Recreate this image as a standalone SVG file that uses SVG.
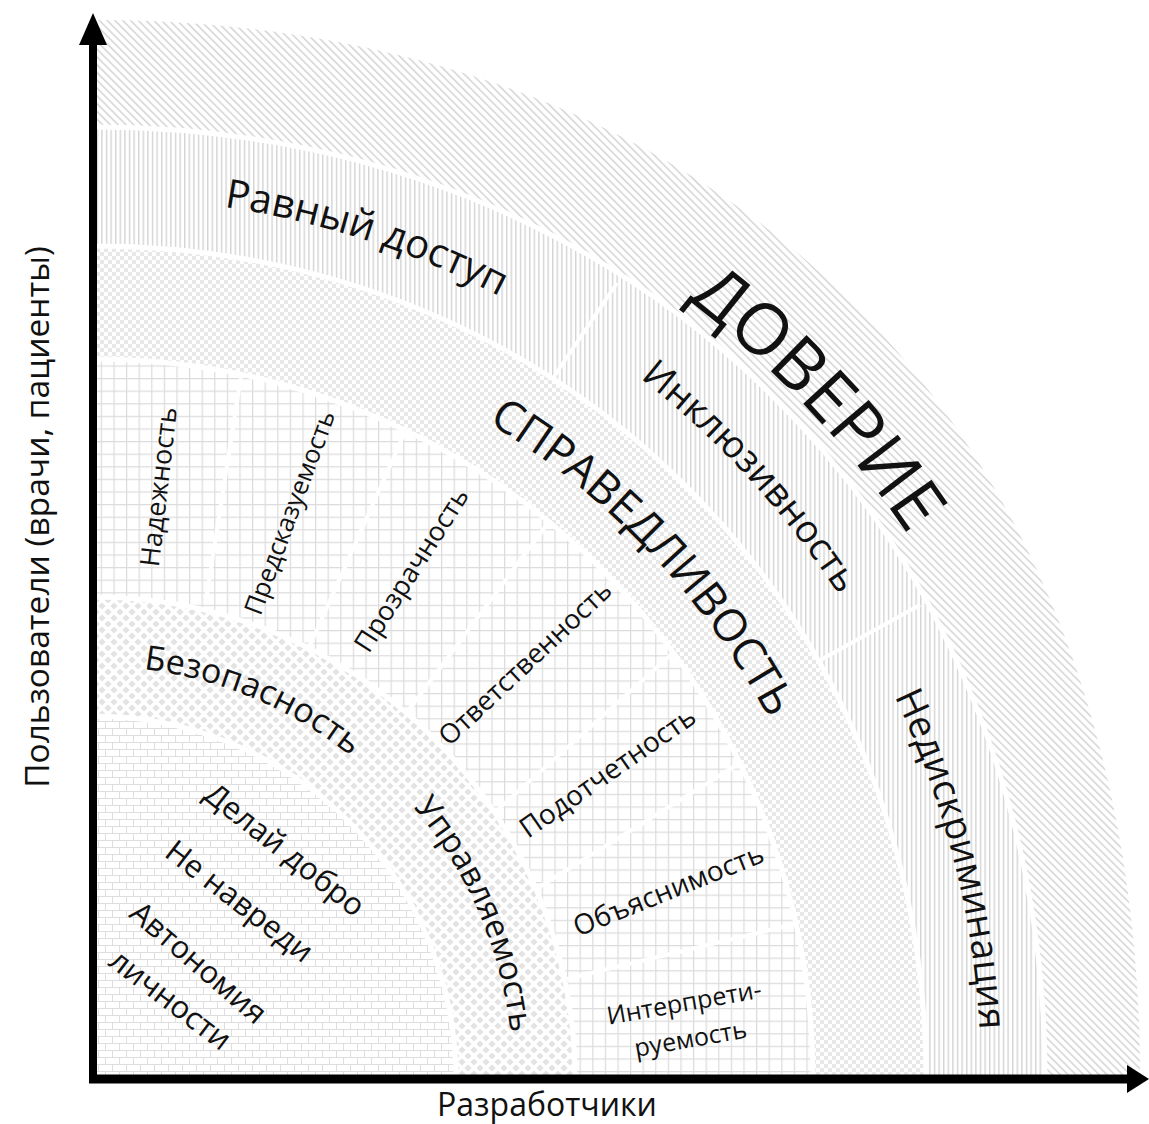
<svg xmlns="http://www.w3.org/2000/svg" xmlns:xlink="http://www.w3.org/1999/xlink" width="1149" height="1124" viewBox="0 0 1149 1124">
<style>
.lbl{font-family:"Open Sans","Noto Sans","DejaVu Sans",sans-serif;fill:#111;}
.sep{fill:none;stroke:#fff;stroke-width:5;}
.div{stroke:#fff;stroke-width:4;stroke-linecap:butt;}
.axis{stroke:#000;}
</style>
<defs>
<pattern id="pDiag" patternUnits="userSpaceOnUse" width="5.5" height="5.5" patternTransform="rotate(-45)"><rect width="5.5" height="5.5" fill="#fff"/><rect width="1.5" height="5.5" fill="#d4d4d4"/></pattern>
<pattern id="pVert" patternUnits="userSpaceOnUse" width="4.6" height="10"><rect width="4.6" height="10" fill="#fff"/><rect width="1.4" height="10" fill="#d4d4d4"/></pattern>
<pattern id="pCheck" patternUnits="userSpaceOnUse" width="8" height="8"><rect width="8" height="8" fill="#fff"/><rect width="4" height="4" fill="#e8e8e8"/><rect x="4" y="4" width="4" height="4" fill="#e8e8e8"/></pattern>
<pattern id="pGrid" patternUnits="userSpaceOnUse" width="12.6" height="12.6"><rect width="12.6" height="12.6" fill="#fff"/><path d="M0 0.6H12.6M0.6 0V12.6" stroke="#dcdcdc" stroke-width="1.2"/></pattern>
<pattern id="pDiamond" patternUnits="userSpaceOnUse" width="12" height="12"><rect width="12" height="12" fill="#fff"/><path d="M6 2.4L9.6 6L6 9.6L2.4 6ZM0 -3.6L3.6 0L0 3.6L-3.6 0ZM12 -3.6L15.6 0L12 3.6L8.4 0ZM0 8.4L3.6 12L0 15.6L-3.6 12ZM12 8.4L15.6 12L12 15.6L8.4 12Z" fill="#e3e3e3"/></pattern>
<pattern id="pBrick" patternUnits="userSpaceOnUse" width="14" height="14"><rect width="14" height="14" fill="#fff"/><path d="M0 0.5H14M0 7.5H14M0.5 0V7M7.5 7V14" stroke="#dedede" stroke-width="1"/></pattern>
<marker id="arrUp" markerUnits="userSpaceOnUse" viewBox="0 0 32 28" markerWidth="32" markerHeight="28" refX="1" refY="14" orient="auto"><path d="M0 0L32 14L0 28Z" fill="#000"/></marker>
<marker id="arrRight" markerUnits="userSpaceOnUse" viewBox="0 0 22 28" markerWidth="22" markerHeight="28" refX="1" refY="14" orient="auto"><path d="M0 0L22 14L0 28Z" fill="#000"/></marker>
<path id="tpDoverie" d="M428.2 158.1A980 980 0 0 1 1033.1 802.3"/>
<path id="tpSprav" d="M310.5 344.6A766 766 0 0 1 837.9 900.2"/>
<path id="tpRavny" d="M139.2 198.2A882 882 0 0 1 573.4 339.3"/>
<path id="tpInkl" d="M583.7 337.7A889 889 0 0 1 874.3 654.8"/>
<path id="tpNedis" d="M872.7 653.9A888 888 0 0 1 981 1077.5"/>
<path id="tpBezop" d="M98.8 666A413 413 0 0 1 384 785.9"/>
<path id="tpUprav" d="M388.4 780.5A420 420 0 0 1 512.9 1069.5"/>
</defs>

<rect width="1149" height="1124" fill="#fff"/>

<g id="ring-doverie">
<path d="M1140 1079C1140 433 732.7 20 93 20L93 127C640.4 127 1045 531.6 1045 1079Z" fill="url(#pDiag)"/>
<text class="lbl" font-size="71" text-anchor="middle"><textPath href="#tpDoverie" startOffset="50%">ДОВЕРИЕ</textPath></text>
</g>

<g id="ring-fairness-outer">
<path d="M1045 1079C1045 531.6 640.4 127 93 127L93 246C563.6 246 926 608.4 926 1079Z" fill="url(#pVert)"/>
<line class="div" x1="549" y1="384" x2="617" y2="283"/>
<line class="div" x1="815" y1="663" x2="920" y2="605"/>
<g id="node-ravny"><text class="lbl" font-size="40" text-anchor="middle"><textPath href="#tpRavny" startOffset="50%">Равный доступ</textPath></text></g>
<g id="node-inkl"><text class="lbl" font-size="38" text-anchor="middle"><textPath href="#tpInkl" startOffset="50%">Инклюзивность</textPath></text></g>
<g id="node-nedis"><text class="lbl" font-size="38" text-anchor="middle"><textPath href="#tpNedis" startOffset="50%">Недискриминация</textPath></text></g>
</g>

<g id="ring-sprav">
<path d="M926 1079C926 608.4 563.6 246 93 246L93 359A720 720 0 0 1 813 1079Z" fill="url(#pCheck)"/>
<text class="lbl" font-size="45" text-anchor="middle"><textPath href="#tpSprav" startOffset="50%">СПРАВЕДЛИВОСТЬ</textPath></text>
</g>

<g id="ring-grid">
<path d="M813 1079A720 720 0 0 0 93 359L93 597A482 482 0 0 1 575 1079Z" fill="url(#pGrid)"/>
<line class="div" x1="241" y1="376" x2="206" y2="600"/>
<line class="div" x1="405" y1="432" x2="308" y2="650"/>
<line class="div" x1="548" y1="523" x2="405" y2="715"/>
<line class="div" x1="672" y1="654" x2="495" y2="812"/>
<line class="div" x1="740" y1="763" x2="536" y2="889"/>
<line class="div" x1="795" y1="924" x2="562" y2="980"/>
<g id="node-nadezh"><text class="lbl" font-size="27" text-anchor="middle" transform="translate(160 487) rotate(-83.5)" y="8">Надежность</text></g>
<g id="node-predsk"><text class="lbl" font-size="25.5" text-anchor="middle" transform="translate(291 513) rotate(-69.6)" y="7.5">Предсказуемость</text></g>
<g id="node-prozr"><text class="lbl" font-size="27" text-anchor="middle" transform="translate(412.5 570.5) rotate(-57.5)" y="8">Прозрачность</text></g>
<g id="node-otvet"><text class="lbl" font-size="27" text-anchor="middle" transform="translate(526 664) rotate(-43.2)" y="8">Ответственность</text></g>
<g id="node-podotch"><text class="lbl" font-size="28" text-anchor="middle" transform="translate(608.5 773.5) rotate(-34.8)" y="8">Подотчетность</text></g>
<g id="node-obyasn"><text class="lbl" font-size="28" text-anchor="middle" transform="translate(669 891.5) rotate(-21.9)" y="8">Объяснимость</text></g>
<g id="node-interp"><text class="lbl" font-size="25" text-anchor="middle" transform="translate(687.5 1021.8) rotate(-10)"><tspan x="0" y="-10.8">Интерпрети-</tspan><tspan x="0" y="25.8">руемость</tspan></text></g>
</g>

<g id="ring-safety">
<path d="M575 1079A482 482 0 0 0 93 597L93 716A363 363 0 0 1 456 1079Z" fill="url(#pDiamond)"/>
<g id="node-bezop"><text class="lbl" font-size="34" text-anchor="middle"><textPath href="#tpBezop" startOffset="50%">Безопасность</textPath></text></g>
<g id="node-uprav"><text class="lbl" font-size="33" text-anchor="middle"><textPath href="#tpUprav" startOffset="50%">Управляемость</textPath></text></g>
</g>

<g id="core-ethics">
<path d="M456 1079A363 363 0 0 0 93 716L93 1079Z" fill="url(#pBrick)"/>
<g id="node-dobro"><text class="lbl" font-size="31" text-anchor="middle" transform="translate(284 851) rotate(38.3)" y="9">Делай добро</text></g>
<g id="node-nevredi"><text class="lbl" font-size="31" text-anchor="middle" transform="translate(238.5 902.5) rotate(37.7)" y="9">Не навреди</text></g>
<g id="node-avtonom"><text class="lbl" font-size="31" text-anchor="middle" transform="translate(197.5 964) rotate(40.6)" y="9">Автономия</text></g>
<g id="node-lichn"><text class="lbl" font-size="31" text-anchor="middle" transform="translate(169.5 1001) rotate(37.3)" y="9">личности</text></g>
</g>

<g id="ring-gaps">
<path class="sep" d="M1045 1079C1045 531.6 640.4 127 93 127"/>
<path class="sep" d="M926 1079C926 608.4 563.6 246 93 246"/>
<path class="sep" d="M813 1079A720 720 0 0 0 93 359"/>
<path class="sep" d="M575 1079A482 482 0 0 0 93 597"/>
<path class="sep" d="M456 1079A363 363 0 0 0 93 716"/>
</g>

<g id="connectors">
<line class="axis" x1="93" y1="1083" x2="93" y2="44" stroke-width="8" marker-end="url(#arrUp)"/>
<line class="axis" x1="89" y1="1079" x2="1128" y2="1079" stroke-width="9" marker-end="url(#arrRight)"/>
</g>

<g id="axis-labels">
<text class="lbl" font-size="32" text-anchor="middle" x="547" y="1116">Разработчики</text>
<text class="lbl" font-size="33.5" text-anchor="middle" transform="translate(38 517) rotate(-90)" y="11">Пользователи (врачи, пациенты)</text>
</g>
</svg>
